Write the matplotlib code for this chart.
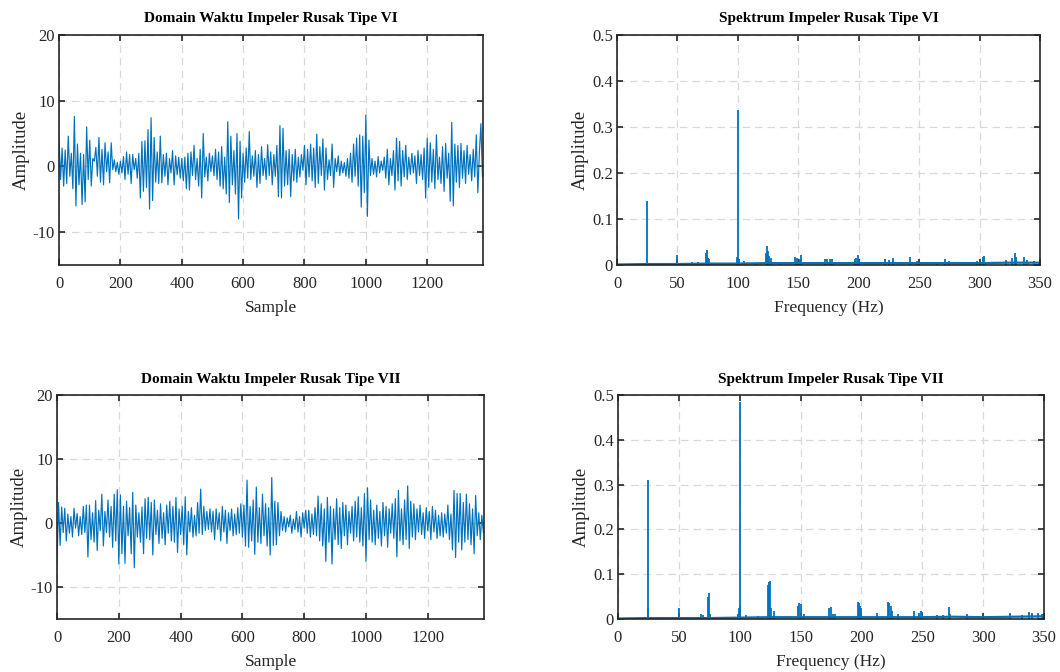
import numpy as np
import matplotlib
matplotlib.use('Agg')
import matplotlib.pyplot as plt

# Configuration
OUT_FILE = "out.png"
LINE_COLOR = "#0072BD"
SAMPLE_STEP = 5

plt.rcParams['font.family'] = ['Liberation Serif', 'DejaVu Serif']
plt.rcParams['axes.unicode_minus'] = False

# Time domain, Tipe VI (one value every 5 samples)
time_vi = [
    4.0, -2.0, 2.8, -3.0, 2.5, -2.6, 4.6, -1.5, 2.0, -3.4, 7.6, -6.0, 3.4, -2.8, 2.0, -5.8, 1.8, -5.4, 6.0, -2.0,
    4.0, -3.0, 1.2, 0.8, 2.9, -1.5, 4.4, -2.4, 2.6, -2.8, 3.6, -0.8, 2.2, -2.5, 3.6, -0.5, 1.0, -0.8, 0.6, -1.2,
    0.8, -1.0, 1.5, -2.0, 2.2, -1.2, 1.8, -2.6, 1.8, -0.5, 1.2, -1.8, 2.0, -4.8, 3.8, -3.8, 3.9, -3.2, 5.6, -6.5,
    7.4, -5.2, 4.4, -2.4, 2.2, -2.6, 4.6, -2.5, 1.8, -1.5, 2.0, -2.8, 1.2, -1.0, 2.4, -2.8, 1.6, -1.3, 1.4, -1.8,
    1.2, -2.2, 1.4, -3.4, 2.0, -3.6, 2.2, -1.4, 3.2, -2.0, 1.2, -3.0, 2.6, -4.8, 5.0, -1.6, 1.4, -2.2, 2.0, -0.8,
    1.6, -1.4, 2.6, -2.0, 2.2, -3.0, 3.0, -3.4, 1.4, -4.2, 6.8, -5.5, 4.6, -2.8, 2.4, -4.2, 5.0, -8.0, 3.8, -4.8,
    2.0, -2.4, 2.8, -1.8, 5.3, -2.0, 1.6, -1.5, 2.4, -3.2, 1.8, -2.6, 3.0, -1.4, 1.2, -2.0, 3.3, -1.4, 2.2, -2.8,
    1.8, -1.5, 3.2, -4.6, 6.2, -4.8, 5.8, -3.0, 2.4, -2.8, 2.6, -4.6, 1.8, -2.2, 2.6, -2.4, 1.4, -1.6, 1.8, -0.6,
    3.2, -2.8, 2.6, -1.6, 3.4, -2.2, 2.8, -3.2, 4.9, -2.6, 3.0, -1.4, 4.2, -3.6, 2.8, -2.0, 1.0, -1.4, 3.4, -3.2,
    1.2, -0.8, 1.6, -1.4, 0.8, -1.0, 0.6, -1.5, 1.2, -1.8, 2.0, -2.4, 3.4, -1.5, 4.3, -3.0, 4.8, -6.2, 4.6, -4.0,
    7.8, -7.6, 4.0, -1.4, 1.2, -1.2, 0.8, -1.6, 1.5, -1.0, 0.8, -0.6, 1.4, -1.8, 2.6, -2.8, 1.2, -1.4, 2.4, -3.6,
    4.3, -2.2, 3.8, -3.0, 2.4, -1.6, 3.2, -2.0, 1.4, -1.2, 2.0, -1.0, 1.6, -2.6, 2.4, -1.4, 1.8, -2.0, 2.8, -4.8,
    4.3, -3.2, 3.6, -2.4, 2.6, -3.4, 4.8, -2.0, 1.4, -2.6, 3.0, -3.8, 3.5, -1.8, 2.0, -5.3, 6.7, -6.0, 3.4, -2.4,
    3.2, -3.2, 3.5, -1.8, 2.4, -2.6, 3.2, -1.2, 1.8, -2.2, 2.6, -1.6, 4.8, -4.0, 2.0, 6.5, -1.5,
]

# Time domain, Tipe VII
time_vii = [
    -6.3, 3.2, -3.5, 2.5, -1.5, 2.3, -2.8, 1.4, -1.6, 1.0, -2.2, 2.3, -0.8, 1.5, -2.0, 1.0, -1.8, 2.6, -1.5, 2.8,
    -5.3, 2.8, -2.6, 1.6, -3.0, 3.5, -4.3, 2.0, -1.2, 4.5, -3.6, 1.8, -1.5, 3.6, -2.2, 2.6, -3.8, 4.5, -2.8, 5.2,
    -6.4, 4.4, -4.8, 2.6, -6.3, 3.4, -2.0, 2.4, -4.8, 4.8, -7.0, 2.8, -2.2, 1.6, -3.0, 2.5, -4.8, 3.8, -2.4, 4.0,
    -2.6, 3.2, -5.0, 3.6, -1.8, 2.0, -3.2, 3.0, -2.4, 1.6, -3.4, 2.8, -1.6, 3.4, -2.8, 2.6, -3.0, 4.0, -4.6, 2.2,
    -1.8, 2.6, -3.4, 4.1, -5.0, 1.8, -1.4, 2.4, -2.2, 1.2, -2.0, 3.2, -1.6, 5.3, -1.8, 2.6, -1.2, 1.8, -1.0, 2.2,
    -1.4, 1.8, -2.6, 2.2, -1.0, 1.6, -2.8, 2.6, -1.4, 2.0, -3.2, 1.6, -1.2, 2.2, -2.0, 1.4, -1.8, 2.4, -1.6, 3.0,
    -2.2, 2.8, -3.6, 6.7, -3.8, 2.6, -2.8, 3.6, -4.9, 5.6, -3.0, 2.4, -3.2, 4.5, -2.0, 3.0, -3.6, 2.4, -5.0, 7.1,
    -3.5, 3.4, -3.4, 3.2, -2.0, 1.8, -1.2, 1.0, -1.4, 0.8, -0.6, 1.2, -1.6, 0.6, -1.0, 1.8, -1.4, 1.0, -2.2, 1.6,
    -0.8, 2.0, -1.6, 2.0, -2.2, 1.4, -1.8, 2.4, -2.0, 4.2, -2.8, 3.0, -3.6, 2.2, -6.0, 4.0, -3.0, 2.6, -6.4, 2.2,
    -2.6, 3.8, -3.4, 2.4, -4.0, 3.2, -2.0, 2.8, -3.4, 1.8, -1.6, 2.6, -2.8, 3.4, -2.2, 4.1, -3.0, 2.4, -3.6, 4.6,
    -6.0, 5.5, -2.6, 3.6, -3.0, 2.0, -3.4, 2.8, -2.4, 1.8, -3.6, 3.2, -2.0, 2.6, -3.8, 2.2, -1.6, 3.0, -2.4, 3.8,
    -5.3, 5.1, -2.8, 2.2, -3.4, 3.6, -2.6, 5.8, -4.0, 3.4, -2.2, 3.0, -2.6, 2.2, -1.4, 2.8, -1.8, 1.6, -2.4, 2.4,
    -1.2, 1.8, -2.6, 2.6, -1.4, 2.0, -2.4, 1.2, -2.0, 1.6, -2.2, 1.4, -1.6, 2.8, -2.6, 1.4, -4.2, 5.1, -5.4, 4.6,
    -3.0, 4.6, -4.2, 3.2, -3.0, 4.5, -2.6, 3.0, -3.4, 2.2, -4.8, 4.3, -2.0, 1.6, -2.6, 1.2, -1.5,
]

# Spectrum Tipe VI: spike frequencies (Hz) and amplitudes
spec_vi_freq = [24.5, 32, 50, 60, 62, 67, 73.5, 74.5, 75.5, 76, 99.5, 100, 100.5, 105, 115,
                123, 124, 125, 126, 127, 135, 147, 149, 151, 152, 172, 174, 176, 178,
                197, 198, 199, 222, 225, 228, 242, 248, 265, 271, 275, 298, 303, 304,
                322, 327, 329, 330, 337, 339, 345, 349]
spec_vi_amp = [0.14, 0.004, 0.021, 0.005, 0.006, 0.006, 0.025, 0.033, 0.015, 0.012, 0.018, 0.337, 0.012, 0.009, 0.004,
               0.025, 0.042, 0.03, 0.02, 0.015, 0.005, 0.018, 0.015, 0.012, 0.022, 0.014, 0.012, 0.012, 0.013,
               0.012, 0.016, 0.021, 0.014, 0.01, 0.016, 0.018, 0.008, 0.006, 0.014, 0.008, 0.008, 0.018, 0.02,
               0.01, 0.015, 0.025, 0.018, 0.017, 0.01, 0.008, 0.006]

# Spectrum Tipe VII
spec_vii_freq = [24.5, 25, 32, 50, 68, 70, 74, 75, 76, 92, 99, 99.5, 100, 100.5, 105, 115,
                 123, 124, 125, 126, 128, 148, 149, 150, 153, 173, 175, 177, 178,
                 197, 198, 199, 200, 213, 222, 223, 224, 225, 230, 243, 247, 249, 250,
                 262, 267, 272, 273, 287, 322, 332, 338, 340, 345, 348]
spec_vii_amp = [0.022, 0.31, 0.004, 0.024, 0.01, 0.008, 0.05, 0.058, 0.01, 0.005, 0.01, 0.025, 0.485, 0.03, 0.008, 0.007,
                0.075, 0.083, 0.084, 0.024, 0.018, 0.03, 0.035, 0.034, 0.011, 0.025, 0.027, 0.012, 0.012,
                0.038, 0.036, 0.03, 0.024, 0.014, 0.038, 0.035, 0.03, 0.018, 0.01, 0.018, 0.014, 0.018, 0.016,
                0.008, 0.008, 0.027, 0.01, 0.01, 0.013, 0.009, 0.016, 0.014, 0.013, 0.01]

# Noise floor of both spectra (every 25 Hz)
floor_freq = [0, 25, 50, 75, 100, 125, 150, 175, 200, 225, 250, 275, 300, 325, 350]
floor_vi = [0.001, 0.002, 0.002, 0.003, 0.003, 0.004, 0.004, 0.004, 0.004, 0.004, 0.004, 0.004, 0.004, 0.005, 0.005]
floor_vii = [0.001, 0.002, 0.002, 0.002, 0.003, 0.004, 0.004, 0.004, 0.004, 0.004, 0.004, 0.005, 0.004, 0.005, 0.006]

AX_POS = {
    'tl': [0.0557, 0.6057, 0.4000, 0.3423],
    'tr': [0.5821, 0.6057, 0.3991, 0.3423],
    'bl': [0.0538, 0.0789, 0.4028, 0.3333],
    'br': [0.5830, 0.0789, 0.4019, 0.3333],
}


def style_axes(ax):
    ax.grid(True, linestyle=(0, (6, 4)), color='#d9d9d9', linewidth=0.9)
    ax.set_axisbelow(True)
    ax.tick_params(direction='in', top=True, right=True, length=4, width=1.2,
                   labelsize=12, colors='#262626')
    ax.tick_params(axis='x', pad=8)
    ax.tick_params(axis='y', pad=3)
    for spine in ax.spines.values():
        spine.set_color('#262626')
        spine.set_linewidth(1.2)


def set_labels(ax, title, xlabel):
    ax.set_title(title, fontsize=11, fontweight='bold', pad=9)
    ax.set_xlabel(xlabel, fontsize=12.5, color='#262626', labelpad=6)
    ax.set_ylabel("Amplitude", fontsize=13.5, color='#262626', labelpad=2)


def plot_time(ax, values, title):
    x = np.arange(len(values)) * SAMPLE_STEP
    ax.plot(x, values, color=LINE_COLOR, linewidth=0.85)
    ax.set_xlim(0, 1382)
    ax.set_ylim(-15, 20)
    ax.set_xticks(range(0, 1201, 200))
    ax.set_yticks([-10, 0, 10, 20])
    set_labels(ax, title, "Sample")
    style_axes(ax)


def plot_spectrum(ax, freqs, amps, floor, title):
    ax.plot(floor_freq, floor, color=LINE_COLOR, linewidth=1.6)
    ax.vlines(freqs, 0, amps, color=LINE_COLOR, linewidth=1.3)
    ax.set_xlim(0, 350)
    ax.set_ylim(0, 0.5)
    ax.set_xticks(range(0, 351, 50))
    ax.set_yticks([0, 0.1, 0.2, 0.3, 0.4, 0.5])
    ax.set_yticklabels(['0', '0.1', '0.2', '0.3', '0.4', '0.5'])
    set_labels(ax, title, "Frequency (Hz)")
    style_axes(ax)


def main():
    fig = plt.figure(figsize=(10.6, 6.72), dpi=100)
    plot_time(fig.add_axes(AX_POS['tl']), time_vi, "Domain Waktu Impeler Rusak Tipe VI")
    plot_spectrum(fig.add_axes(AX_POS['tr']), spec_vi_freq, spec_vi_amp, floor_vi,
                  "Spektrum Impeler Rusak Tipe VI")
    plot_time(fig.add_axes(AX_POS['bl']), time_vii, "Domain Waktu Impeler Rusak Tipe VII")
    plot_spectrum(fig.add_axes(AX_POS['br']), spec_vii_freq, spec_vii_amp, floor_vii,
                  "Spektrum Impeler Rusak Tipe VII")
    fig.savefig(OUT_FILE, dpi=100)
    plt.close(fig)


if __name__ == "__main__":
    main()
